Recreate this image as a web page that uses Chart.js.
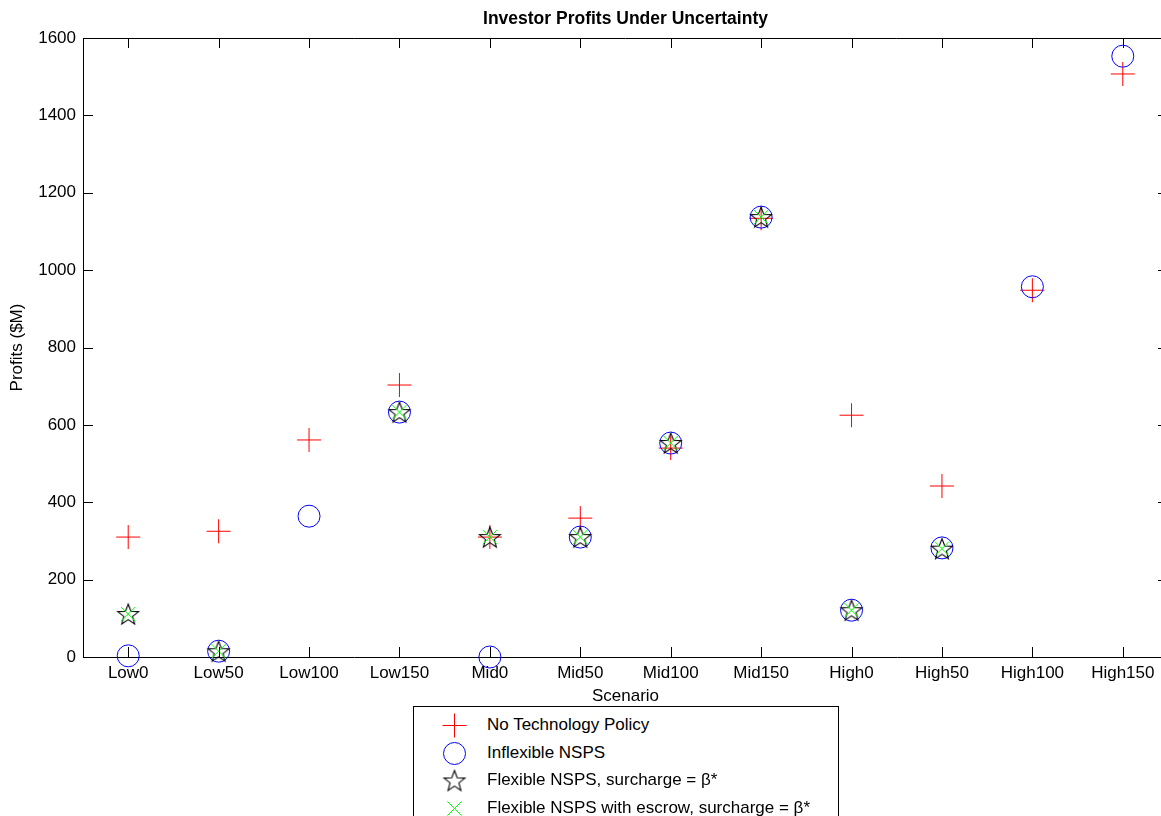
<!DOCTYPE html>
<html>
<head>
<meta charset="utf-8">
<script src="https://cdn.jsdelivr.net/npm/chart.js@4.4.1/dist/chart.umd.min.js"></script>
<style>
  html, body { margin: 0; padding: 0; overflow: hidden; background: #fff; }
  #wrap { position: relative; width: 1169px; height: 816px; overflow: hidden; }
  #G1 { position: absolute; left: 0; top: 0; width: 1169px; height: 816px; }
  #legend {
    position: absolute; left: 413px; top: 706px; width: 426px; height: 130px;
    box-sizing: border-box; border: 1px solid #000; background: #fff;
    padding-top: 4px; font: 17px "Liberation Sans", Arial, sans-serif; color: #000;
  }
  .row { position: relative; height: 27.5px; line-height: 27.5px; padding-left: 73px; white-space: nowrap; }
  .row canvas { position: absolute; left: 24px; top: 0; }
</style>
</head>
<body>
<div id="wrap">
  <canvas id="G1" width="1169" height="816"></canvas>
  <div id="legend"></div>
</div>
<script>
const scenarios = ['Low0', 'Low50', 'Low100', 'Low150', 'Mid0', 'Mid50', 'Mid100', 'Mid150',
                   'High0', 'High50', 'High100', 'High150'];
const noPolicy   = [310, 325, 561, 703, 310, 359, 540, 1134, 625, 442, 948, 1507];
const inflexible = [3, 15, 364, 633, 0, 310, 553, 1137, 121, 282, 957, 1553];
const flexible   = [111, 15, null, 633, 310, 310, 553, 1137, 121, 280, null, null];
const escrow     = [111, 15, null, 633, 310, 310, 553, 1137, 121, 280, null, null];
const yTicks = [0, 200, 400, 600, 800, 1000, 1200, 1400, 1600];

const FONT = '"Liberation Sans", Arial, sans-serif';

// five pointed star as an image, chart.js has no such point style
function makeStar(r) {
  const s = Math.ceil(r * 2 + 4);
  const c = document.createElement('canvas');
  c.width = s; c.height = s;
  const ctx = c.getContext('2d');
  ctx.strokeStyle = '#000';
  ctx.lineWidth = 1.1;
  ctx.beginPath();
  for (let i = 0; i < 10; i++) {
    const rad = (i % 2 === 0) ? r : r * 0.42;
    const a = -Math.PI / 2 + i * Math.PI / 5;
    const px = s / 2 + rad * Math.cos(a), py = s / 2 + 1 + rad * Math.sin(a);
    if (i === 0) ctx.moveTo(px, py); else ctx.lineTo(px, py);
  }
  ctx.closePath();
  ctx.stroke();
  return c;
}
const star = makeStar(11);

const series = [
  { label: 'No Technology Policy', data: noPolicy, style: 'cross', color: '#ff0000', radius: 12, order: 4 },
  { label: 'Inflexible NSPS', data: inflexible, style: 'circle', color: '#0000ff', radius: 11, order: 3 },
  { label: 'Flexible NSPS, surcharge = β*', data: flexible, style: star, color: '#000000', radius: 11, order: 2 },
  { label: 'Flexible NSPS with escrow, surcharge = β*', data: escrow, style: 'crossRot', color: '#00ff00', radius: 10, order: 1 }
];

// inward ticks on all four sides plus the top frame line
const innerTicks = {
  id: 'innerTicks',
  afterDraw(chart) {
    const { ctx, chartArea: a, scales: { x, y } } = chart;
    ctx.save();
    ctx.strokeStyle = '#000';
    ctx.lineWidth = 1;
    ctx.beginPath();
    ctx.moveTo(a.left, Math.round(a.top) + 0.5);
    ctx.lineTo(a.right, Math.round(a.top) + 0.5);
    ctx.moveTo(Math.round(a.right) - 0.5, a.top);
    ctx.lineTo(Math.round(a.right) - 0.5, a.bottom);
    x.ticks.forEach((t, i) => {
      const px = Math.round(x.getPixelForTick(i)) + 0.5;
      ctx.moveTo(px, a.bottom); ctx.lineTo(px, a.bottom - 10);
      ctx.moveTo(px, a.top); ctx.lineTo(px, a.top + 10);
    });
    y.ticks.forEach(t => {
      const py = Math.round(y.getPixelForValue(t.value)) + 0.5;
      ctx.moveTo(a.left, py); ctx.lineTo(a.left + 10, py);
      ctx.moveTo(a.right, py); ctx.lineTo(a.right - 10, py);
    });
    ctx.stroke();
    ctx.restore();
  }
};

const config = {
  type: 'line',
  data: {
    labels: scenarios,
    datasets: series.map(s => ({
      label: s.label,
      data: s.data,
      showLine: false,
      pointStyle: s.style,
      pointRadius: s.radius,
      pointHoverRadius: s.radius,
      pointBorderWidth: 1,
      borderColor: s.color,
      pointBorderColor: s.color,
      pointBackgroundColor: 'rgba(0,0,0,0)',
      order: s.order,
      clip: false
    }))
  },
  options: {
    responsive: false,
    animation: false,
    events: [],
    layout: { autoPadding: false, padding: { left: 0, right: 1, top: 0, bottom: 109 } },
    plugins: {
      legend: { display: false },
      tooltip: { enabled: false },
      title: {
        display: true,
        fullSize: false,
        text: 'Investor Profits Under Uncertainty',
        color: '#000',
        font: { family: FONT, size: 17.5, weight: 'bold' },
        padding: { top: 9, bottom: 8 }
      }
    },
    scales: {
      x: {
        type: 'category',
        offset: true,
        grid: { display: false, drawTicks: false },
        border: { display: true, color: '#000', width: 1 },
        ticks: { color: '#000', font: { family: FONT, size: 17 }, padding: 6, maxRotation: 0, autoSkip: false },
        title: { display: true, text: 'Scenario', color: '#000', font: { family: FONT, size: 17 }, padding: { top: 0, bottom: 0 } },
        afterFit(s) { s.height = 50; s.paddingLeft = 0; s.paddingRight = 0; }
      },
      y: {
        min: 0,
        max: 1600,
        afterBuildTicks(s) { s.ticks = yTicks.map(v => ({ value: v })); },
        grid: { display: false, drawTicks: false },
        border: { display: true, color: '#000', width: 1 },
        ticks: { color: '#000', font: { family: FONT, size: 17 }, padding: 7, callback: v => String(v) },
        title: { display: true, text: 'Profits ($M)', color: '#000', font: { family: FONT, size: 17 }, padding: { top: 7, bottom: 0 } },
        afterFit(s) { s.width = 83; }
      }
    }
  },
  plugins: [innerTicks]
};

new Chart(document.getElementById('G1'), config);

// legend box, one row per series, stacked like the original
function drawMarker(ctx, s, cx, cy) {
  ctx.strokeStyle = s.color;
  ctx.lineWidth = 1;
  ctx.beginPath();
  if (s.style === 'cross') {
    ctx.moveTo(cx - s.radius, cy); ctx.lineTo(cx + s.radius, cy);
    ctx.moveTo(cx, cy - s.radius); ctx.lineTo(cx, cy + s.radius);
    ctx.stroke();
  } else if (s.style === 'circle') {
    ctx.arc(cx, cy, s.radius, 0, Math.PI * 2);
    ctx.stroke();
  } else if (s.style === 'crossRot') {
    const d = s.radius * Math.SQRT1_2;
    ctx.moveTo(cx - d, cy - d); ctx.lineTo(cx + d, cy + d);
    ctx.moveTo(cx - d, cy + d); ctx.lineTo(cx + d, cy - d);
    ctx.stroke();
  } else {
    ctx.drawImage(s.style, cx - s.style.width / 2, cy - s.style.height / 2);
  }
}

const legend = document.getElementById('legend');
series.forEach(s => {
  const row = document.createElement('div');
  row.className = 'row';
  const c = document.createElement('canvas');
  c.width = 32; c.height = 28;
  drawMarker(c.getContext('2d'), s, 16.5, 14.5);
  row.appendChild(c);
  row.appendChild(document.createTextNode(s.label));
  legend.appendChild(row);
});
</script>
</body>
</html>
